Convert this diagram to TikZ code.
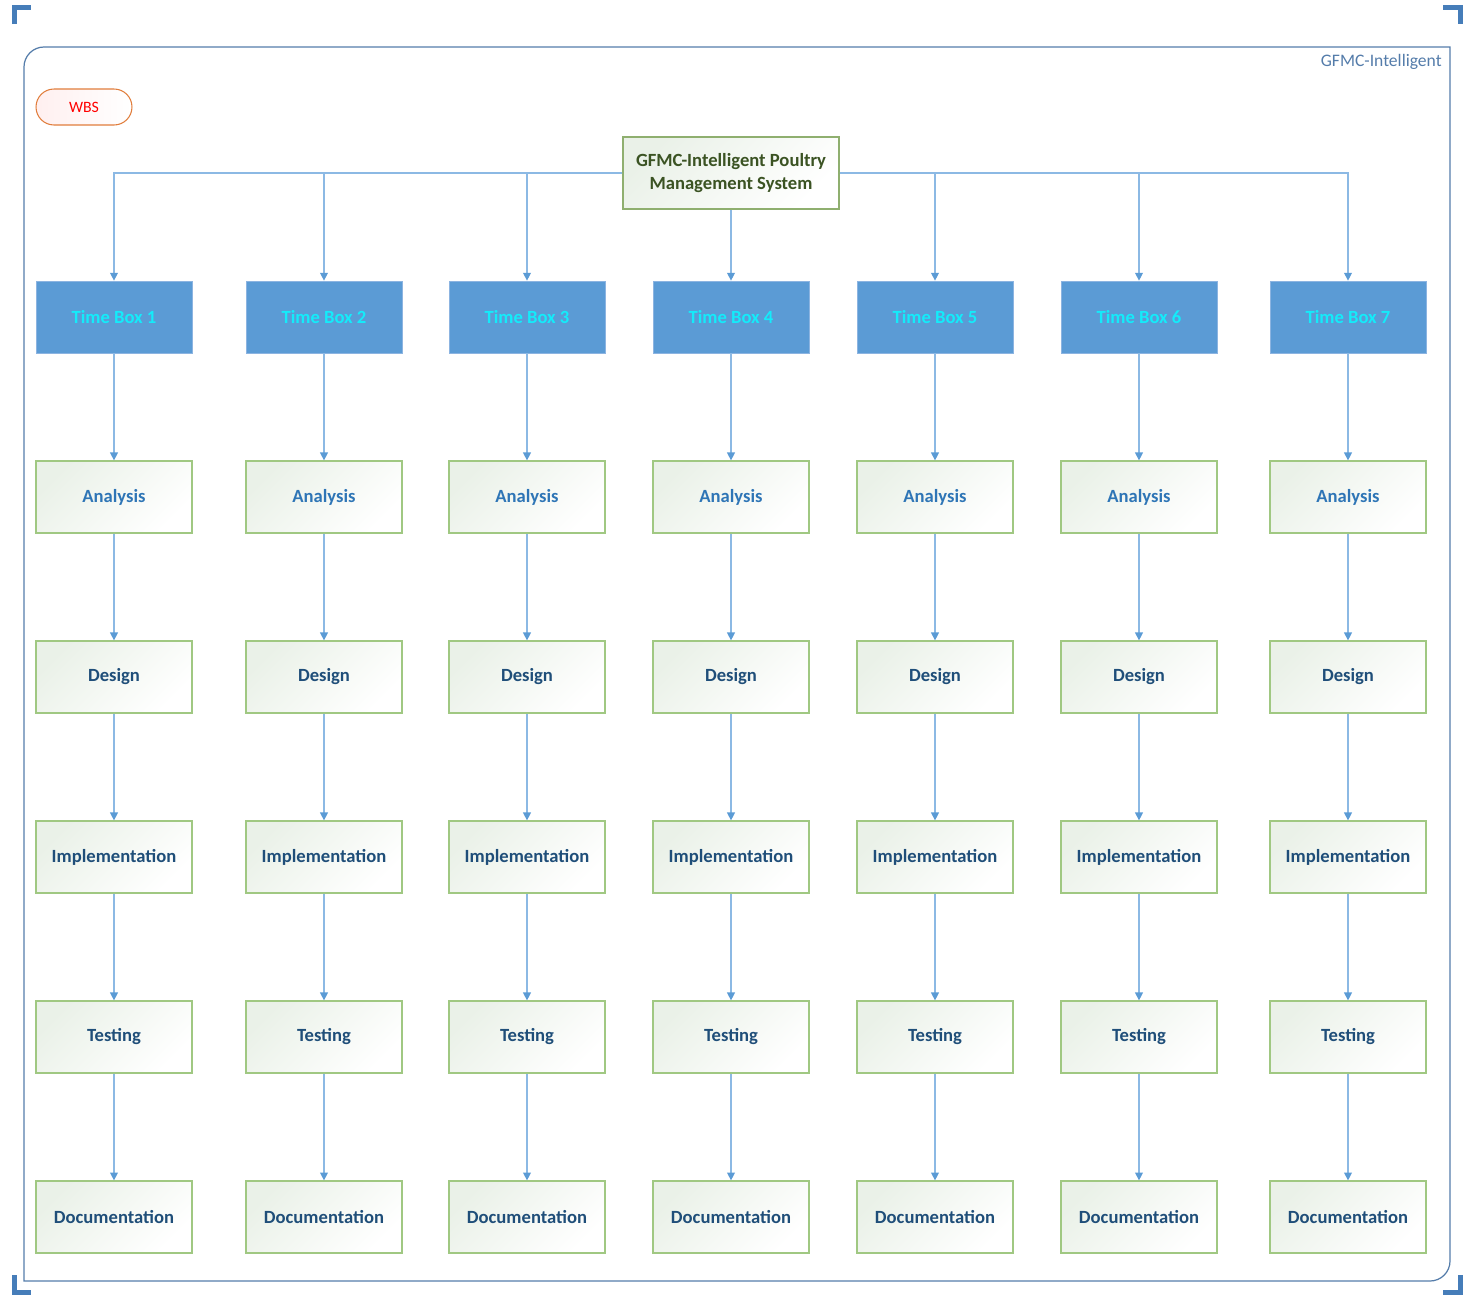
\documentclass[tikz,border=0pt]{standalone}
\usepackage{fontspec}
\setmainfont{Carlito}
\usetikzlibrary{arrows.meta, shadows}

\definecolor{linkblue}{RGB}{91,155,213}
\definecolor{linkline}{RGB}{140,185,228}
\definecolor{tbfill}{RGB}{91,155,213}
\definecolor{tbedge}{RGB}{140,180,225}
\definecolor{tbtext}{RGB}{20,235,250}
\definecolor{taskedge}{RGB}{160,200,130}
\definecolor{taskshade}{RGB}{234,241,232}
\definecolor{anatext}{RGB}{46,117,182}
\definecolor{tasktext}{RGB}{31,78,121}
\definecolor{roottext}{RGB}{59,83,35}
\definecolor{rootedge}{RGB}{143,175,111}
\definecolor{framecol}{RGB}{84,124,170}
\definecolor{markcol}{RGB}{70,125,185}
\definecolor{wbsedge}{RGB}{225,125,60}

\begin{document}
\begin{tikzpicture}[x=0.02cm,y=0.02cm,
 link/.style={draw=linkline, line width=0.6pt, -{Triangle[length=4.5pt,width=4.5pt,color=linkblue]}},
 box/.style={rectangle, inner sep=0pt, minimum width=3.12cm, minimum height=1.44cm,
   font=\fontsize{10.6}{12.8}\selectfont\bfseries, align=center,
   drop shadow={opacity=0.12, shadow xshift=0.8pt, shadow yshift=-0.8pt}},
 time node/.style={box, draw=tbedge, fill=tbfill, text=tbtext},
 task node/.style={box, draw=taskedge, line width=0.7pt, left color=taskshade, right color=white, shading angle=45},
 root node/.style={box, draw=rootedge, line width=0.7pt, left color=taskshade, right color=white, shading angle=45,
   minimum width=4.32cm, text=roottext},
 corner mark/.style={draw=markcol, line width=2.8pt}]

  \useasboundingbox (0,0) rectangle (1477,-1315);

  % frame and corner marks
  \draw[draw=framecol, line width=0.7pt] (24,-1281) -- (24,-67) arc (180:90:20) -- (1450,-47)
     -- (1450,-1261) arc (0:-90:20) -- cycle;
  \draw[corner mark] (14.5,-24) -- (14.5,-7.5) -- (31,-7.5);
  \draw[corner mark] (1443,-7.5) -- (1460.5,-7.5) -- (1460.5,-24);
  \draw[corner mark] (14.5,-1275) -- (14.5,-1292.5) -- (31,-1292.5);
  \draw[corner mark] (1443,-1292.5) -- (1460.5,-1292.5) -- (1460.5,-1275);

  \node[anchor=east, inner sep=0pt, text=framecol, font=\fontsize{10}{12}\selectfont] (tag) at (1442,-62) {GFMC-Intelligent};
  \node[rectangle, rounded corners=0.36cm, draw=wbsedge, line width=0.6pt, left color=red!6, right color=white,
    minimum width=1.92cm, minimum height=0.72cm, inner sep=0pt, text=red,
    font=\fontsize{9}{11}\selectfont] (wbs) at (84,-107) {WBS};

  \node[root node] (root) at (731,-173) {GFMC-Intelligent Poultry\\Management System};

  % columns
  \foreach \i/\x in {1/114,2/324,3/527,4/731,5/935,6/1139,7/1348} {
    \node[time node] (t\i-0) at (\x,-317) {Time Box \i};
    \foreach \j/\t/\c in {1/Analysis/anatext, 2/Design/tasktext, 3/Implementation/tasktext,
                          4/Testing/tasktext, 5/Documentation/tasktext} {
      \pgfmathtruncatemacro\k{\j-1}
      \node[task node, text=\c] (t\i-\j) at (\x,-317-180*\j) {\t};
      \draw[link] (t\i-\k) -- (t\i-\j);
    }
  }

  \foreach \i in {1,2,3}
    \draw[link] (root.west) -| (t\i-0.north);
  \draw[link] (root) -- (t4-0);
  \foreach \i in {5,6,7}
    \draw[link] (root.east) -| (t\i-0.north);
\end{tikzpicture}
\end{document}
